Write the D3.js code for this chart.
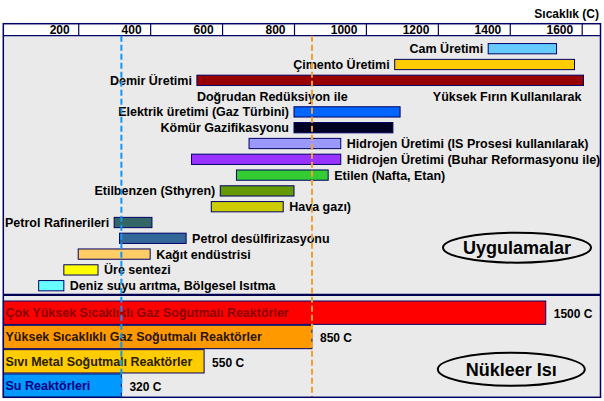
<!DOCTYPE html>
<html><head><meta charset="utf-8">
<script src="https://cdn.jsdelivr.net/npm/d3@7"></script>
<style>
html,body{margin:0;padding:0;background:#fff;}
svg{display:block;font-family:"Liberation Sans",Arial,sans-serif;font-weight:bold;}
</style>
</head><body><svg id="c" width="604" height="401"></svg>
<script>
// ---------- DATA ----------
const axisTitle = "Sıcaklık (C)";
const tickValues = [200, 400, 600, 800, 1000, 1200, 1400, 1600];
const tickLabels = ["200", "400", "600", "800", "1000", "1200", "1400", "1600"];

const appNames = [
  "Cam Üretimi",
  "Çimento Üretimi",
  "Demir Üretimi",
  "Elektrik üretimi (Gaz Türbini)",
  "Kömür Gazifikasyonu",
  "Hidrojen Üretimi (IS Prosesi kullanılarak)",
  "Hidrojen Üretimi (Buhar Reformasyonu ile)",
  "Etilen (Nafta, Etan)",
  "Etilbenzen (Sthyren)",
  "Hava gazı)",
  "Petrol Rafinerileri",
  "Petrol desülfirizasyonu",
  "Kağıt endüstrisi",
  "Üre sentezi",
  "Deniz suyu arıtma, Bölgesel Isıtma"
];
const appStart = [1340, 1080, 530, 800, 800, 675, 515, 640, 595, 570, 300, 315, 200, 160, 90];
const appEnd   = [1530, 1580, 1605, 1095, 1075, 930, 930, 895, 800, 770, 405, 500, 400, 255, 160];
const leftLabelled = ["Cam Üretimi", "Çimento Üretimi", "Demir Üretimi",
  "Elektrik üretimi (Gaz Türbini)", "Kömür Gazifikasyonu", "Etilbenzen (Sthyren)", "Petrol Rafinerileri"];
const demirSubLabels = ["Doğrudan Redüksiyon ile", "Yüksek Fırın Kullanılarak"];

const reactorNames = [
  "Çok Yüksek Sıcaklıklı Gaz Soğutmalı Reaktörler",
  "Yüksek Sıcaklıklı Gaz Soğutmalı Reaktörler",
  "Sıvı Metal Soğutmalı Reaktörler",
  "Su Reaktörleri"
];
const reactorValues = [1500, 850, 550, 320];
const reactorValueLabels = ["1500 C", "850 C", "550 C", "320 C"];
const refLineValues = [320, 850];

const panelTitles = ["Uygulamalar", "Nükleer Isı"];

// ---------- STYLES ----------
const appColors = ["#66ccff", "#ffcc00", "#990000", "#0066ff", "#000022", "#9999ff", "#9933ff",
  "#33cc33", "#669900", "#cccc00", "#336666", "#336699", "#ffcc66", "#ffff00", "#66ffff"];
const reactorColors = ["#ff0000", "#ff9900", "#ffcc00", "#0099ff"];
const reactorTextColors = ["#880000", "#2a1500", "#2a2000", "#000080"];
const refLineColors = ["#1a93ee", "#f3a033"];
const navy = "#000066";

// ---------- LAYOUT ----------
const F = {left: 3.3, right: 600.5, top: 23.7, head: 35.7, divider: 294.8, bottom: 397.3};
const svg = d3.select("#c");
const x = d3.scaleLinear().domain([0, 1600]).range([6.3, 581.7]);

const rowKeys = appNames.flatMap(n => n === "Demir Üretimi" ? [n, n + " (alt)"] : [n]);
const y = d3.scaleBand().domain(rowKeys).range([40.8, 293.6]).paddingInner(0.35).paddingOuter(0.175);
const yr = d3.scaleBand().domain(reactorNames).range([301, 397.3]).paddingInner(0.04);

// backgrounds
svg.append("rect").attr("width", 604).attr("height", 401).attr("fill", "#fff");
svg.append("rect").attr("x", F.left).attr("y", F.head).attr("width", F.right - F.left)
  .attr("height", F.bottom - F.head).attr("fill", "#eaeaea");

// axis title
svg.append("text").attr("x", 599).attr("y", 17.5).attr("text-anchor", "end")
  .attr("font-size", 12).attr("fill", "#000").text(axisTitle);

// header axis
const axis = d3.axisTop(x).tickValues(tickValues).tickFormat((d, i) => tickLabels[i]).tickSize(F.head - F.top);
const gAxis = svg.append("g").attr("transform", `translate(0,${F.head})`).call(axis);
gAxis.select(".domain").remove();
gAxis.selectAll(".tick line").attr("stroke", navy).attr("stroke-width", 1.2);
gAxis.selectAll(".tick text").attr("x", -9).attr("y", -1.8).attr("dy", 0)
  .attr("text-anchor", "end").attr("font-size", 12).attr("fill", "#000")
  .attr("font-family", "Liberation Sans, Arial, sans-serif").attr("font-weight", "bold");
svg.append("line").attr("x1", F.left).attr("x2", F.right).attr("y1", F.head).attr("y2", F.head)
  .attr("stroke", navy).attr("stroke-width", 1.2);

// application bars
const apps = appNames.map((n, i) => ({name: n, start: appStart[i], end: appEnd[i], color: appColors[i]}));
svg.append("g").selectAll("rect").data(apps).join("rect")
  .attr("x", d => x(d.start)).attr("width", d => x(d.end) - x(d.start))
  .attr("y", d => y(d.name)).attr("height", y.bandwidth())
  .attr("fill", d => d.color).attr("stroke", navy).attr("stroke-width", 1);

svg.append("g").selectAll("text").data(apps).join("text")
  .attr("font-size", 12.5).attr("fill", "#000")
  .attr("x", d => leftLabelled.includes(d.name) ? x(d.start) - 5 : x(d.end) + 6)
  .attr("text-anchor", d => leftLabelled.includes(d.name) ? "end" : "start")
  .attr("y", d => y(d.name) + y.bandwidth() / 2).attr("dy", "0.36em")
  .text(d => d.name);

// Demir sub labels
const demir = apps.find(d => d.name === "Demir Üretimi");
const subY = y("Demir Üretimi (alt)") + y.bandwidth() / 2;
svg.append("g").selectAll("text").data(demirSubLabels).join("text")
  .attr("font-size", 12.5).attr("fill", "#000")
  .attr("x", (d, i) => i === 0 ? x(demir.start) : x(demir.end) - 2)
  .attr("text-anchor", (d, i) => i === 0 ? "start" : "end")
  .attr("y", subY).attr("dy", "0.36em").text(d => d);

// divider between panels
svg.append("line").attr("x1", F.left).attr("x2", F.right).attr("y1", F.divider).attr("y2", F.divider)
  .attr("stroke", "#000055").attr("stroke-width", 2.2);

// reactor bars
const reactors = reactorNames.map((n, i) => ({name: n, value: reactorValues[i], label: reactorValueLabels[i],
  color: reactorColors[i], tcolor: reactorTextColors[i]}));
svg.append("g").selectAll("rect").data(reactors).join("rect")
  .attr("x", F.left).attr("width", d => x(d.value) - F.left)
  .attr("y", d => yr(d.name)).attr("height", yr.bandwidth())
  .attr("fill", d => d.color).attr("stroke", navy).attr("stroke-width", 1);
svg.append("g").selectAll("text").data(reactors).join("text")
  .attr("font-size", 12.5).attr("fill", d => d.tcolor)
  .attr("x", 5.5).attr("y", d => yr(d.name) + yr.bandwidth() / 2).attr("dy", "0.36em")
  .text(d => d.name);
svg.append("g").selectAll("text").data(reactors).join("text")
  .attr("font-size", 12).attr("fill", "#000")
  .attr("x", d => x(d.value) + 8).attr("y", d => yr(d.name) + yr.bandwidth() / 2 + 1).attr("dy", "0.36em")
  .text(d => d.label);

// reference dashed lines
svg.append("g").selectAll("line").data(refLineValues).join("line")
  .attr("x1", d => x(d)).attr("x2", d => x(d)).attr("y1", F.head).attr("y2", F.bottom)
  .attr("stroke", (d, i) => refLineColors[i]).attr("stroke-width", 2).attr("stroke-dasharray", "6,3");

// panel titles in ellipses
const titlePos = [{cx: 517, cy: 247.7, rx: 74, ry: 15}, {cx: 511.3, cy: 369.3, rx: 73.5, ry: 16.5}];
const gT = svg.append("g").selectAll("g").data(panelTitles).join("g");
gT.append("ellipse").attr("cx", (d, i) => titlePos[i].cx).attr("cy", (d, i) => titlePos[i].cy)
  .attr("rx", (d, i) => titlePos[i].rx).attr("ry", (d, i) => titlePos[i].ry)
  .attr("fill", "none").attr("stroke", "#000").attr("stroke-width", 2);
gT.append("text").attr("x", (d, i) => titlePos[i].cx).attr("y", (d, i) => titlePos[i].cy)
  .attr("dy", "0.36em").attr("text-anchor", "middle").attr("font-size", 18).attr("fill", "#000")
  .text(d => d);

// frame
svg.append("rect").attr("x", F.left).attr("y", F.top).attr("width", F.right - F.left)
  .attr("height", F.bottom - F.top).attr("fill", "none").attr("stroke", navy).attr("stroke-width", 1.5);
</script>
</body></html>
